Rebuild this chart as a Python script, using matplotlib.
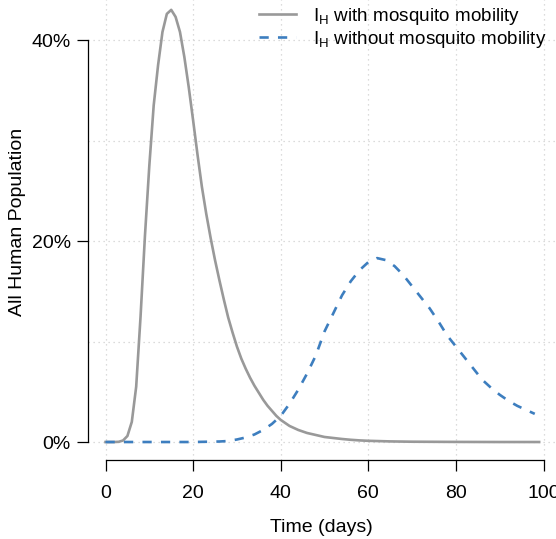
import matplotlib
matplotlib.use("Agg")
import matplotlib.pyplot as plt

plt.rcParams['font.family'] = ['Liberation Sans', 'DejaVu Sans']
plt.rcParams['mathtext.fontset'] = 'custom'
plt.rcParams['mathtext.rm'] = 'Liberation Sans'

# infected humans (% of all humans), with mosquito mobility
days_mob = [0, 1, 2, 3, 4, 5, 6, 7, 8, 9, 10, 11, 12, 13, 14, 15, 16, 17, 18, 19,
            20, 21, 22, 23, 24, 25, 26, 27, 28, 29, 30, 31, 32, 33, 34, 35, 36, 37,
            38, 39, 40, 41, 42, 43, 44, 45, 46, 47, 48, 49, 50, 52, 54, 56, 58, 60,
            65, 70, 80, 90, 99]
ih_mob = [0, 0, 0, 0.02, 0.15, 0.6, 2.0, 5.5, 12.5, 20.5, 27.5, 33.5, 37.5, 40.8,
          42.6, 43.0, 42.3, 40.8, 38.3, 35.3, 32.0, 28.6, 25.4, 22.7, 20.3, 18.1,
          16.1, 14.2, 12.4, 10.9, 9.5, 8.3, 7.3, 6.4, 5.6, 4.9, 4.2, 3.6, 3.1, 2.6,
          2.2, 1.9, 1.6, 1.4, 1.2, 1.05, 0.9, 0.8, 0.7, 0.6, 0.5, 0.4, 0.3, 0.22,
          0.16, 0.12, 0.06, 0.03, 0.01, 0, 0]

# infected humans, without mosquito mobility
days_nomob = [0, 10, 20, 26, 28, 30, 32, 34, 36, 38, 40, 42, 44, 46, 48, 50, 52, 54,
              56, 58, 60, 62, 64, 66, 68, 70, 72, 74, 76, 78, 80, 82, 84, 86, 88, 90,
              92, 94, 96, 98]
ih_nomob = [0, 0, 0, 0.05, 0.1, 0.25, 0.45, 0.75, 1.2, 1.8, 2.6, 3.8, 5.2, 6.8, 8.6,
            11.0, 12.8, 14.6, 16.0, 17.1, 17.9, 18.3, 18.1, 17.5, 16.6, 15.5, 14.4,
            13.3, 12.0, 10.6, 9.5, 8.4, 7.3, 6.2, 5.4, 4.7, 4.1, 3.6, 3.2, 2.8]

x_ticks = [0, 20, 40, 60, 80, 100]
y_ticks = [0, 20, 40]
y_grid = [0, 10, 20, 30, 40]

W, H = 556, 539
fig = plt.figure(figsize=(W / 100, H / 100), dpi=100)
xl, xr = -4, 104
yb, yt = -1.75, 45
ax_h = (yt - yb) * 10.05
ax = fig.add_axes([88 / W, (H - 459.6) / H, (xr - xl) * 4.38 / W, ax_h / H])
ax.set_xlim(xl, xr)
ax.set_ylim(yb, yt)

for g in x_ticks:
    ax.axvline(g, color='#d0d0d0', lw=0.9, ls=(0, (1, 3)), zorder=0)
for g in y_grid:
    ax.axhline(g, color='#d0d0d0', lw=0.9, ls=(0, (1, 3)), zorder=0)

ax.plot(days_mob, ih_mob, color='#999999', lw=1.9,
        label=r'I$_\mathrm{H}$ with mosquito mobility')
ax.plot(days_nomob, ih_nomob, color='#3d7ebf', lw=1.9, dashes=(3.5, 3.5),
        label=r'I$_\mathrm{H}$ without mosquito mobility')

for s in ['top', 'right']:
    ax.spines[s].set_visible(False)
ax.spines['left'].set_bounds(0, 40)
ax.spines['bottom'].set_bounds(0, 100)
ax.spines['left'].set_linewidth(0.9)
ax.spines['bottom'].set_linewidth(0.9)

ax.set_xticks(x_ticks)
ax.set_yticks(y_ticks)
ax.set_yticklabels([f'{v}%' for v in y_ticks])
ax.tick_params(direction='out', length=8, width=0.9, labelsize=14)
ax.tick_params(axis='x', pad=10)
ax.tick_params(axis='y', pad=4.5)

ax.set_xlabel('Time (days)', fontsize=14)
ax.set_ylabel('All Human Population', fontsize=14)
ax.xaxis.set_label_coords((321 - 88) / ((xr - xl) * 4.38), (459.6 - 527) / ax_h)
ax.yaxis.set_label_coords((18 - 88) / ((xr - xl) * 4.38), (459.6 - 222) / ax_h)
ax.xaxis.label.set_va('center')
ax.yaxis.label.set_va('center')

fig.legend(loc='upper right', bbox_to_anchor=(554 / W, 1 + 2 / H), frameon=False,
           fontsize=13.6, handlelength=1.95, handletextpad=0.9, labelspacing=0.12,
           borderaxespad=0)

fig.savefig('out.png', dpi=100)
